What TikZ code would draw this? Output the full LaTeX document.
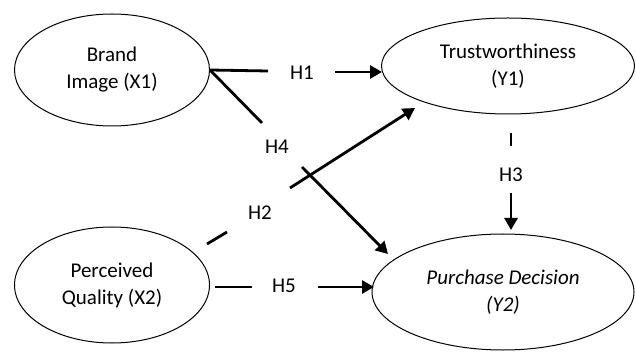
\documentclass[tikz,border=0pt]{standalone}
\usepackage{fontspec}
\setmainfont{Carlito}
\usetikzlibrary{shapes.geometric,arrows.meta}
\begin{document}
\begin{tikzpicture}[x=1pt,y=-1pt,
  latent/.style={draw, ellipse, line width=1pt, inner sep=0pt, align=center, font=\fontsize{21}{27}\selectfont},
  hlabel/.style={inner sep=1pt, font=\fontsize{21}{24}\selectfont},
  seg/.style={line width=2.8pt},
  arr/.style={line width=2.8pt, -{Triangle[length=12pt,width=13pt]}}]
\useasboundingbox (0,0) rectangle (636,352);
% latent variables
\node[latent, minimum width=195pt, minimum height=112pt] (bi) at (112,70) {Brand\\Image (X1)};
\node[latent, minimum width=253pt, minimum height=96pt] (tw) at (508,66) {Trustworthiness\\(Y1)};
\node[latent, minimum width=195pt, minimum height=116pt] (pq) at (112,285) {Perceived\\Quality (X2)};
\node[latent, minimum width=262pt, minimum height=116pt] (pd) at (503,292) {\itshape Purchase Decision\\\itshape (Y2)};
% hypothesis labels
\node[hlabel] (h1) at (302,73) {H1};
\node[hlabel] (h4) at (277,147) {H4};
\node[hlabel] (h2) at (260,213) {H2};
\node[hlabel] (h5) at (284,286) {H5};
\node[hlabel] (h3) at (511,175) {H3};
% connector points
\coordinate (h1a) at (268,71);
\coordinate (h1b) at (335,72);
\coordinate (h1t) at (382,72);
\coordinate (h4a) at (262,123);
\coordinate (h4b) at (302,167);
\coordinate (h4t) at (388,254);
\coordinate (h2s) at (207,244);
\coordinate (h2a) at (227,232);
\coordinate (h2b) at (290,188);
\coordinate (h2t) at (415,108);
\coordinate (h5s) at (215,287);
\coordinate (h5a) at (252,287);
\coordinate (h5b) at (318,287);
\coordinate (h5t) at (374,287);
\coordinate (h3s) at (511,133);
\coordinate (h3a) at (511,146);
\coordinate (h3b) at (511,193);
\coordinate (h3t) at (511,230);
% connectors
\draw[seg] (bi.east) -- (h1a);
\draw[arr] (h1b) -- (h1t);
\draw[seg] (bi.east) -- (h4a);
\draw[arr] (h4b) -- (h4t);
\draw[seg] (h2s) -- (h2a);
\draw[arr] (h2b) -- (h2t);
\draw[seg] (h5s) -- (h5a);
\draw[arr] (h5b) -- (h5t);
\draw[seg] (h3s) -- (h3a);
\draw[arr] (h3b) -- (h3t);
\end{tikzpicture}
\end{document}
